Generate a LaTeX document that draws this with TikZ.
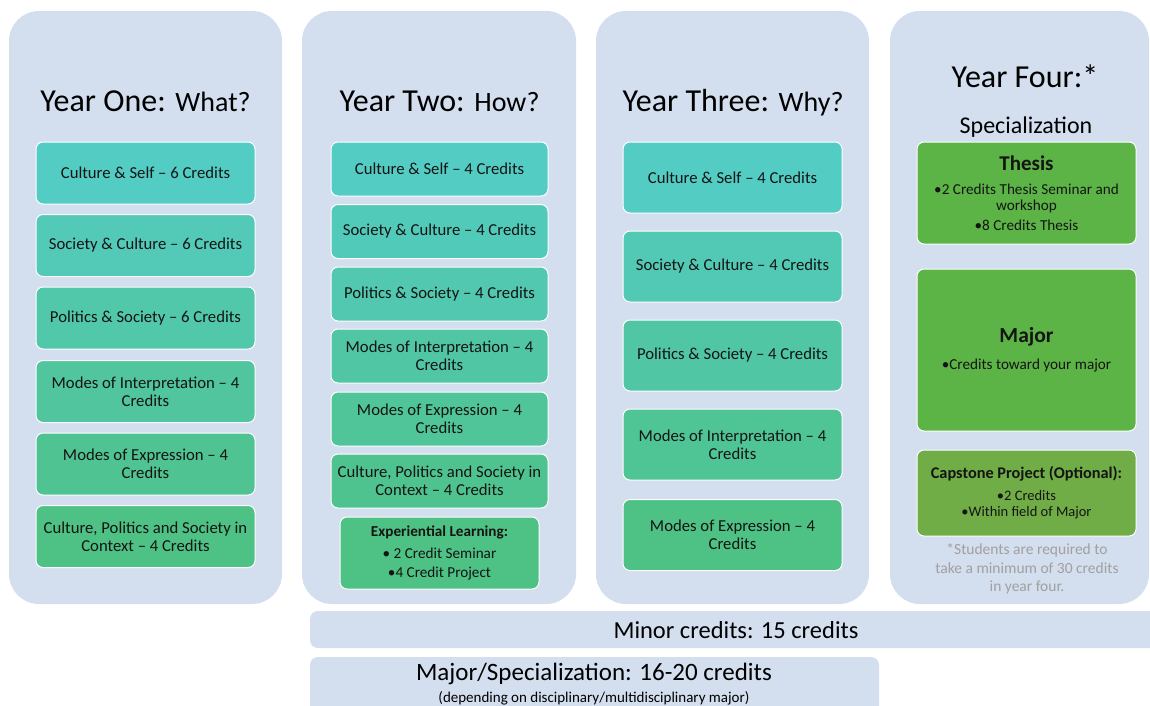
\documentclass[tikz,border=0pt]{standalone}
\usepackage{fontspec}
\setmainfont{Carlito}
\definecolor{panel}{RGB}{211,222,239}
\definecolor{ctop}{RGB}{83,204,196}
\definecolor{cbot}{RGB}{78,193,132}
\definecolor{cgreen}{RGB}{93,180,70}
\definecolor{colive}{RGB}{112,173,71}
\definecolor{notegray}{RGB}{160,160,160}
\definecolor{ink}{RGB}{20,20,20}
\begin{document}
\begin{tikzpicture}[x=1pt,y=-1pt,
  panelbox/.style={fill=panel, rounded corners=30pt},
  barbox/.style={fill=panel, rounded corners=8pt},
  cbox/.style={draw=white, line width=1pt, rounded corners=7pt, align=center,
    inner sep=0pt, text=ink, font=\fontsize{16.7}{18}\selectfont},
  gbox/.style={cbox, font=\fontsize{15.2}{16.5}\selectfont},
  yeartitle/.style={anchor=base, inner sep=0pt, text=black, font=\fontsize{32}{34}\selectfont},
]
\useasboundingbox (0,0) rectangle (1150,706);
\clip (0,0) rectangle (1150,706);

% panels
\fill[panelbox] (9,11) rectangle (282,604);
\fill[panelbox] (302,11) rectangle (576,604);
\fill[panelbox] (596,11) rectangle (869,604);
\fill[panelbox] (890,11) rectangle (1149,604);
% bars
\fill[barbox] (310,611) rectangle (1180,648);
\fill[barbox] (310,657) rectangle (879,730);

% titles
\node[yeartitle] (t1) at (145.5,112) {Year One: {\fontsize{28}{30}\selectfont What?}};
\node[yeartitle] (t2) at (439.5,112) {Year Two: {\fontsize{28}{30}\selectfont How?}};
\node[yeartitle] (t3) at (733,112) {Year Three: {\fontsize{28}{30}\selectfont Why?}};
\node[yeartitle] (t4) at (1025,88) {Year Four:*};
\node[anchor=base, inner sep=0pt, font=\fontsize{24}{26}\selectfont] (spec) at (1026,133) {Specialization};

% Year One
\tikzset{y1/.style={cbox, minimum width=219pt, minimum height=62pt}}
\node[y1, fill=ctop] (a1) at (145.5,173) {Culture \& Self -- 6 Credits};
\node[y1, fill=ctop!80!cbot] (a2) at (145.5,245.5) {Society \& Culture -- 6 Credits};
\node[y1, fill=ctop!60!cbot] (a3) at (145.5,318) {Politics \& Society -- 6 Credits};
\node[y1, fill=ctop!40!cbot] (a4) at (145.5,391.5) {Modes of Interpretation -- 4\\Credits};
\node[y1, fill=ctop!20!cbot] (a5) at (145.5,464) {Modes of Expression -- 4\\Credits};
\node[y1, fill=cbot] (a6) at (145.5,536.5) {Culture, Politics and Society in\\Context -- 4 Credits};

% Year Two
\tikzset{y2/.style={cbox, minimum width=217pt, minimum height=54pt}}
\node[y2, fill=ctop] (b1) at (439.5,169) {Culture \& Self -- 4 Credits};
\node[y2, fill=ctop!83!cbot] (b2) at (439.5,231.5) {Society \& Culture -- 4 Credits};
\node[y2, fill=ctop!67!cbot] (b3) at (439.5,294) {Politics \& Society -- 4 Credits};
\node[y2, fill=ctop!50!cbot] (b4) at (439.5,356) {Modes of Interpretation -- 4\\Credits};
\node[y2, fill=ctop!33!cbot] (b5) at (439.5,419) {Modes of Expression -- 4\\Credits};
\node[y2, fill=ctop!17!cbot] (b6) at (439.5,481) {Culture, Politics and Society in\\Context -- 4 Credits};
\node[gbox, fill=cbot, minimum width=199pt, minimum height=72pt] (b7) at (439.5,553)
  {\textbf{Experiential Learning:}\\[5pt]\textbullet\ 2 Credit Seminar\\[3pt]\textbullet4 Credit Project};

% Year Three
\tikzset{y3/.style={cbox, minimum width=219pt, minimum height=71pt}}
\node[y3, fill=ctop] (c1) at (732.5,177.5) {Culture \& Self -- 4 Credits};
\node[y3, fill=ctop!75!cbot] (c2) at (732.5,266.5) {Society \& Culture -- 4 Credits};
\node[y3, fill=ctop!50!cbot] (c3) at (732.5,355.5) {Politics \& Society -- 4 Credits};
\node[y3, fill=ctop!25!cbot] (c4) at (732.5,444.5) {Modes of Interpretation -- 4\\Credits};
\node[y3, fill=cbot] (c5) at (732.5,535) {Modes of Expression -- 4\\Credits};

% Year Four
\tikzset{y4/.style={gbox, minimum width=219pt}}
\node[y4, fill=cgreen, minimum height=102pt] (d1) at (1026.5,193)
  {{\fontsize{21}{22}\selectfont\bfseries Thesis}\\[7pt]\textbullet2 Credits Thesis Seminar and\\workshop\\[3pt]\textbullet8 Credits Thesis};
\node[y4, fill=cgreen, minimum height=162pt] (d2) at (1026.5,350)
  {{\fontsize{21.5}{22}\selectfont\bfseries Major}\\[11pt]\textbullet Credits toward your major};
\node[y4, fill=colive, minimum height=86pt, font=\fontsize{14.5}{16.5}\selectfont] (d3) at (1026.5,493)
  {{\fontsize{16.3}{17}\selectfont\bfseries Capstone Project (Optional):}\\[5pt]\textbullet2 Credits\\\textbullet Within field of Major};
\node[align=center, inner sep=0pt, text=notegray, font=\fontsize{15.5}{18.5}\selectfont] (note) at (1027,569)
  {*Students are required to\\take a minimum of 30 credits\\in year four.};

% bars text
\node[inner sep=0pt, font=\fontsize{24.5}{26}\selectfont] (minor) at (736,630) {Minor credits: 15 credits};
\node[inner sep=0pt, font=\fontsize{25}{26}\selectfont] (major) at (594,674) {Major/Specialization: 16-20 credits};
\node[inner sep=0pt, font=\fontsize{15}{16}\selectfont] (dep) at (594,698) {(depending on disciplinary/multidisciplinary major)};
\end{tikzpicture}
\end{document}
